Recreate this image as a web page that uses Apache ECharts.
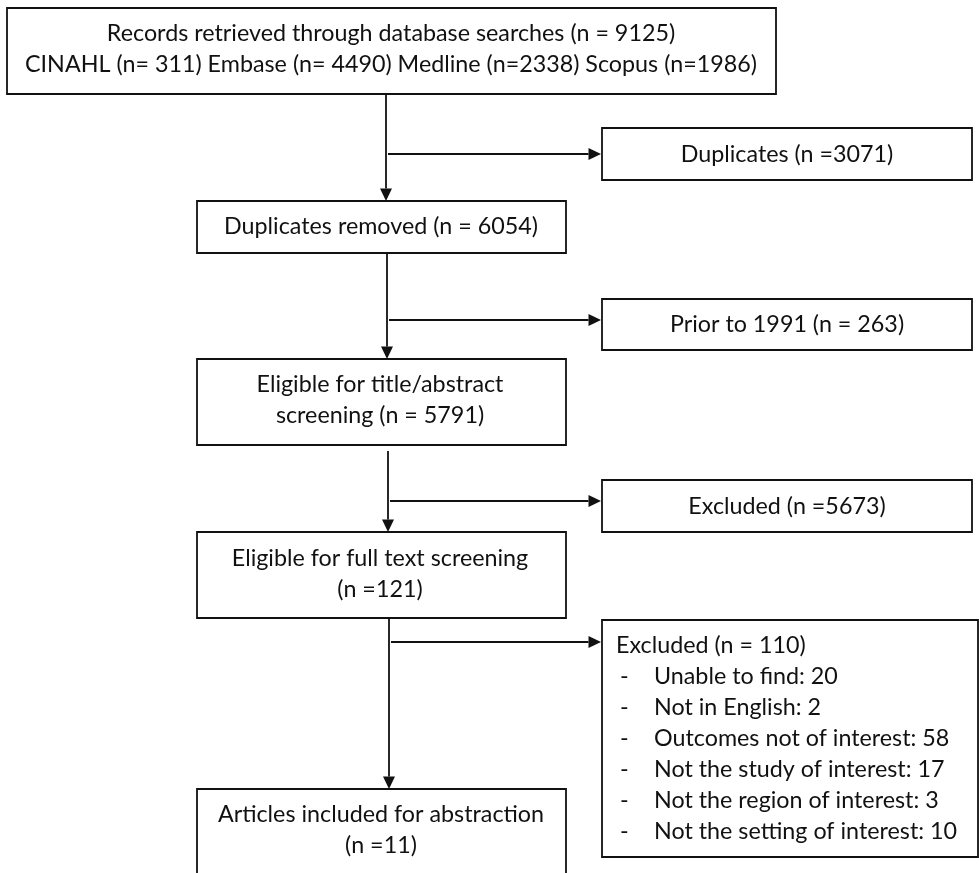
<!DOCTYPE html>
<html>
<head>
<meta charset="utf-8">
<script src="https://cdn.jsdelivr.net/npm/echarts@6/dist/echarts.min.js"></script>
<style>
html,body{margin:0;padding:0;background:#fff;}
#chart{width:979px;height:873px;}
</style>
</head>
<body>
<div id="chart"></div>
<script>
// ---------- DATA ----------
const stageTemplates = [
  'Records retrieved through database searches (n = {n})',
  'Duplicates removed (n = {n})',
  'Eligible for title/abstract\nscreening (n = {n})',
  'Eligible for full text screening\n(n ={n})',
  'Articles included for abstraction\n(n ={n})'
];
const stageCounts = [9125, 6054, 5791, 121, 11];

const sourceTemplates = ['CINAHL (n= {n})', 'Embase (n= {n})', 'Medline (n={n})', 'Scopus (n={n})'];
const sourceCounts = [311, 4490, 2338, 1986];

const exclusionTemplates = ['Duplicates (n ={n})', 'Prior to 1991 (n = {n})', 'Excluded (n ={n})', 'Excluded (n = {n})'];
const exclusionCounts = [3071, 263, 5673, 110];

const reasonLabels = ['Unable to find', 'Not in English', 'Outcomes not of interest',
  'Not the study of interest', 'Not the region of interest', 'Not the setting of interest'];
const reasonCounts = [20, 2, 58, 17, 3, 10];

// ---------- LAYOUT (axis units = pixels) ----------
const mainBoxes = [[7, 8, 776, 94], [197, 201, 566, 253], [197, 359, 566, 445], [197, 532, 566, 618], [197, 789, 566, 910]];
const mainTextPos = [[391, 33], [381, 226], [380, 384], [380, 558], [381, 814]];
const sideBoxes = [[602, 128, 972, 180], [602, 299, 972, 350], [602, 480, 972, 532], [602, 620, 978, 857]];
const sideTextPos = [[787, 154], [787, 324], [787, 506]];
const listPos = { x: 616, dashX: 620, itemX: 654, y: 645, step: 31 };
const verticals = [[386, 94, 386, 201], [387, 253, 387, 359], [388, 451, 388, 532], [389, 618, 389, 789]];
const horizontals = [[388, 154, 601, 154], [389, 320, 601, 320], [390, 501, 601, 501], [391, 642, 601, 642]];
const LINE_H = 31.5;
const FONT = '23.3px Lato, "Open Sans", sans-serif';
const INK = '#111111';

// ---------- BUILD ----------
const fill = (t, n) => t.replace('{n}', n);
const texts = [];
const textItems = [];
function addText(str, x, y, align) {
  texts.push(str);
  textItems.push([x, y, texts.length - 1, align === 'left' ? 0 : 1]);
}
stageTemplates.forEach((t, i) => {
  let s = fill(t, stageCounts[i]);
  if (i === 0) s += '\n' + sourceTemplates.map((st, j) => fill(st, sourceCounts[j])).join(' ');
  s.split('\n').forEach((line, k) => addText(line, mainTextPos[i][0], mainTextPos[i][1] + k * LINE_H, 'center'));
});
exclusionTemplates.forEach((t, i) => {
  const s = fill(t, exclusionCounts[i]);
  if (i < 3) addText(s, sideTextPos[i][0], sideTextPos[i][1], 'center');
  else addText(s, listPos.x, listPos.y, 'left');
});
reasonLabels.forEach((r, i) => {
  const y = listPos.y + (i + 1) * listPos.step;
  addText('-', listPos.dashX, y, 'left');
  addText(r + ': ' + reasonCounts[i], listPos.itemX, y, 'left');
});

const boxes = mainBoxes.concat(sideBoxes);
const arrows = verticals.concat(horizontals);

const chart = echarts.init(document.getElementById('chart'), null, { renderer: 'canvas' });
chart.setOption({
  backgroundColor: '#ffffff',
  animation: false,
  grid: { left: 0, right: 0, top: 0, bottom: 0 },
  xAxis: { type: 'value', min: 0, max: 979, show: false },
  yAxis: { type: 'value', min: 0, max: 873, inverse: true, show: false },
  series: [
    {
      type: 'custom', name: 'boxes', clip: true, silent: true,
      data: boxes,
      renderItem: function (params, api) {
        const p0 = api.coord([api.value(0), api.value(1)]);
        const p1 = api.coord([api.value(2), api.value(3)]);
        return {
          type: 'rect',
          shape: { x: p0[0], y: p0[1], width: p1[0] - p0[0], height: p1[1] - p0[1] },
          style: { fill: '#fff', stroke: INK, lineWidth: 1.8 }
        };
      }
    },
    {
      type: 'custom', name: 'arrows', clip: true, silent: true,
      data: arrows,
      renderItem: function (params, api) {
        const a = api.coord([api.value(0), api.value(1)]);
        const b = api.coord([api.value(2), api.value(3)]);
        const dx = b[0] - a[0], dy = b[1] - a[1];
        const len = Math.sqrt(dx * dx + dy * dy);
        const ux = dx / len, uy = dy / len;
        const hl = 12.5, hw = 6;
        const base = [b[0] - ux * hl, b[1] - uy * hl];
        return {
          type: 'group',
          children: [
            { type: 'line', shape: { x1: a[0], y1: a[1], x2: base[0], y2: base[1] },
              style: { stroke: INK, lineWidth: 1.8 } },
            { type: 'polygon', shape: { points: [b,
                [base[0] - uy * hw, base[1] + ux * hw],
                [base[0] + uy * hw, base[1] - ux * hw]] },
              style: { fill: INK } }
          ]
        };
      }
    },
    {
      type: 'custom', name: 'labels', clip: false, silent: true,
      data: textItems,
      z: 5,
      renderItem: function (params, api) {
        const p = api.coord([api.value(0), api.value(1)]);
        const align = api.value(3) === 0 ? 'left' : 'center';
        return {
          type: 'text',
          style: {
            text: texts[api.value(2)],
            x: p[0], y: p[1],
            font: FONT,
            fill: INK,
            align: align, verticalAlign: 'middle',
            textAlign: align, textVerticalAlign: 'middle'
          }
        };
      }
    }
  ]
});
</script>
</body>
</html>
